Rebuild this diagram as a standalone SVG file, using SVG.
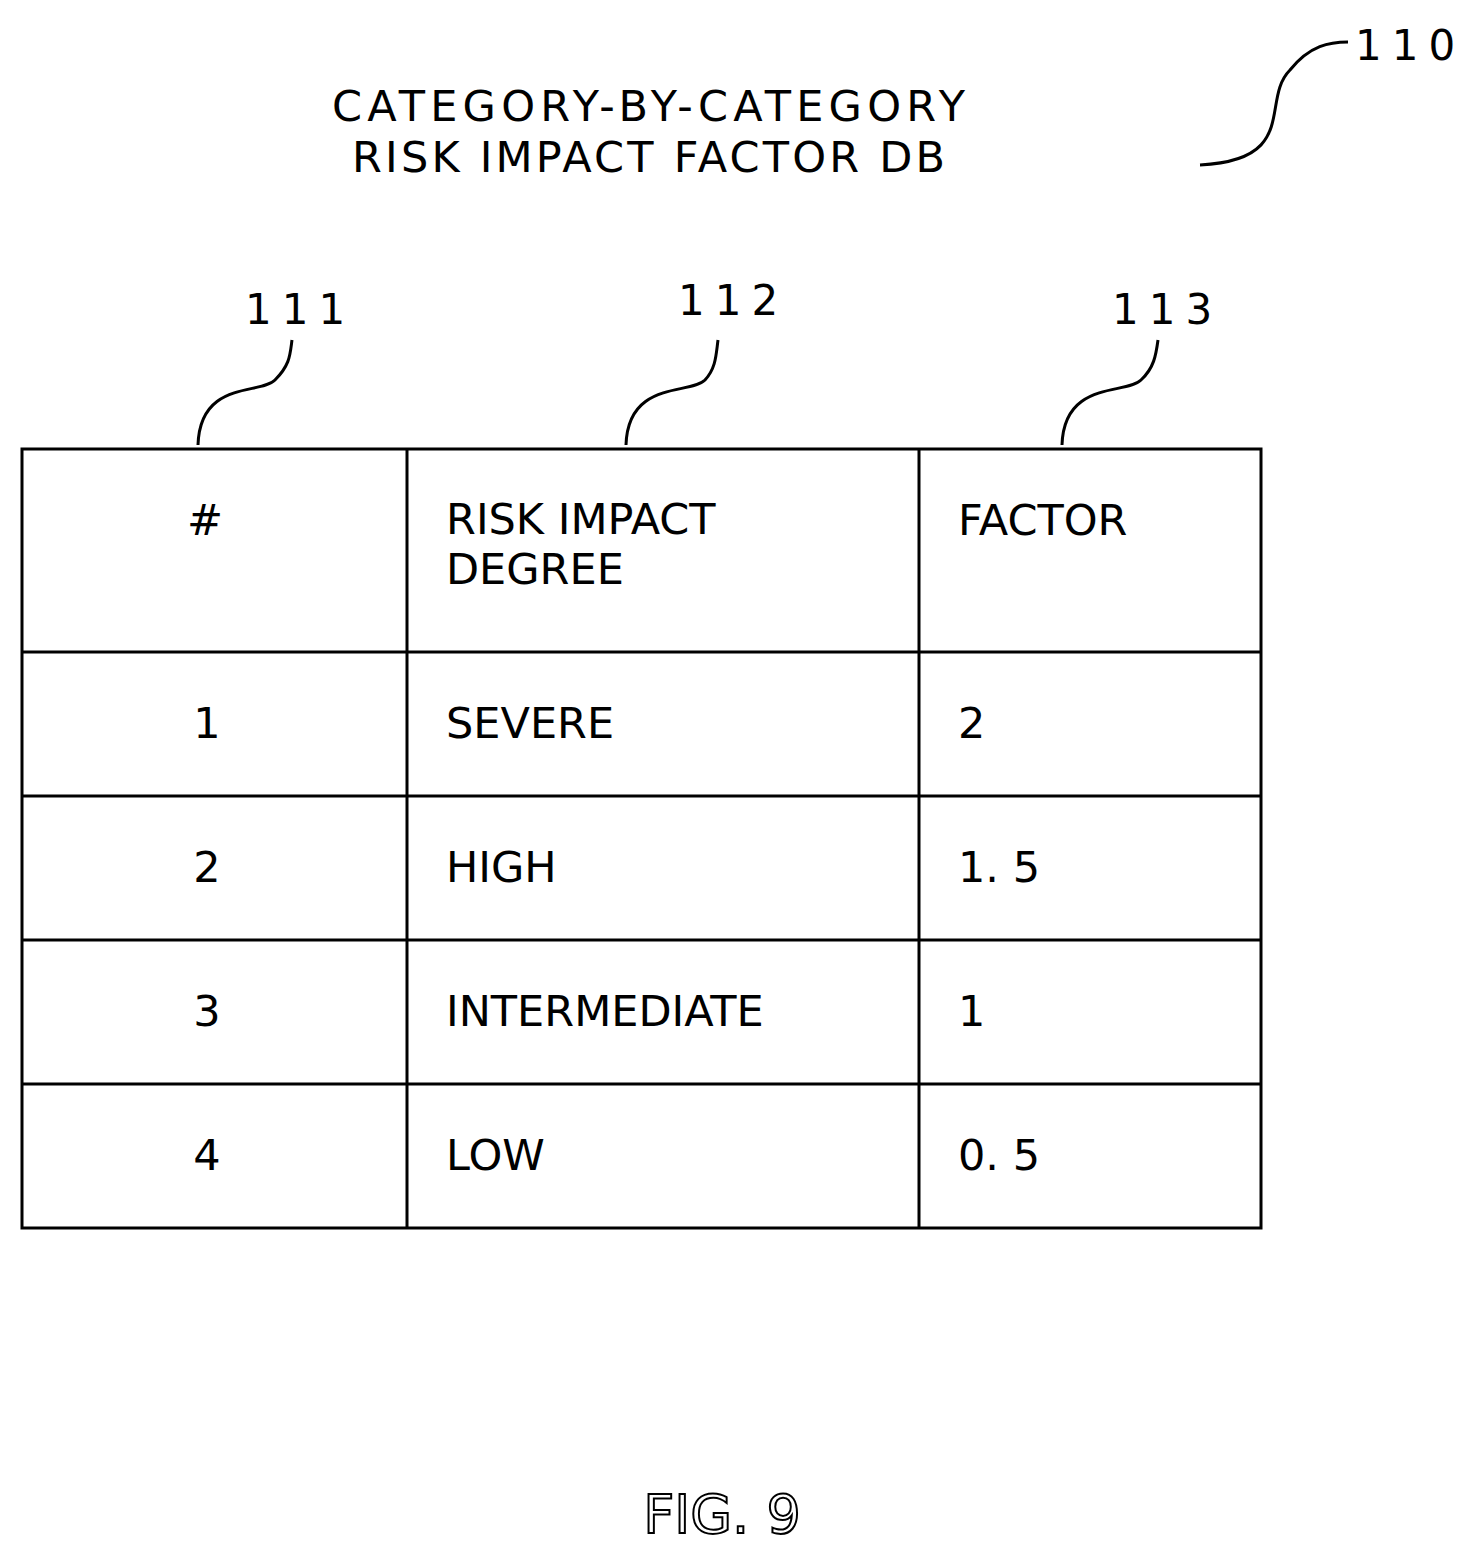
<svg xmlns="http://www.w3.org/2000/svg" width="1471" height="1556" viewBox="0 0 1471 1556">
<style>
text{font-family:"DejaVu Sans","Noto Sans CJK JP",sans-serif;font-size:43px;fill:#000}
.ref{font-size:42px;letter-spacing:10px}
.ln{fill:none;stroke:#000;stroke-width:3}
.c{text-anchor:middle}
</style>
<rect width="1471" height="1556" fill="#fff"/>
<g id="title">
<text x="332" y="121" textLength="633" lengthAdjust="spacing">CATEGORY-BY-CATEGORY</text>
<text x="352" y="172" textLength="593" lengthAdjust="spacing">RISK IMPACT FACTOR DB</text>
</g>
<g id="connectors">
<path class="ln" d="M1200,165 C1300,160 1260,100 1290,70 C1310,45 1330,42 1348,42"/>
<path class="ln" d="M198,445 C200,380 260,395 275,380 C290,365 290,355 292,340"/>
<path class="ln" d="M626,445 C628,380 690,395 705,380 C716,368 716,355 718,340"/>
<path class="ln" d="M1062,445 C1064,380 1126,395 1141,380 C1154,368 1156,355 1158,340"/>
</g>
<g id="labels">
<text class="ref" x="1355" y="60">110</text>
<text class="ref" x="245" y="324">111</text>
<text class="ref" x="678" y="315">112</text>
<text class="ref" x="1112" y="324">113</text>
</g>
<g id="table">
<rect class="ln" x="22" y="449" width="1239" height="779"/>
<path class="ln" d="M407,449V1228M919,449V1228M22,652H1261M22,796H1261M22,940H1261M22,1084H1261"/>
<text class="c" x="205" y="535">#</text>
<text x="446" y="534">RISK IMPACT</text>
<text x="446" y="584">DEGREE</text>
<text x="958" y="535">FACTOR</text>
<text class="c" x="207" y="738">1</text><text x="446" y="738">SEVERE</text><text x="958" y="738">2</text>
<text class="c" x="207" y="882">2</text><text x="446" y="882">HIGH</text><text x="958" y="882">1. 5</text>
<text class="c" x="207" y="1026">3</text><text x="446" y="1026">INTERMEDIATE</text><text x="958" y="1026">1</text>
<text class="c" x="207" y="1170">4</text><text x="446" y="1170">LOW</text><text x="958" y="1170">0. 5</text>
</g>
<g id="fig">
<text class="c" x="722" y="1533" style="font-size:54px;fill:#fff;stroke:#000;stroke-width:2">FIG. 9</text>
</g>
</svg>
